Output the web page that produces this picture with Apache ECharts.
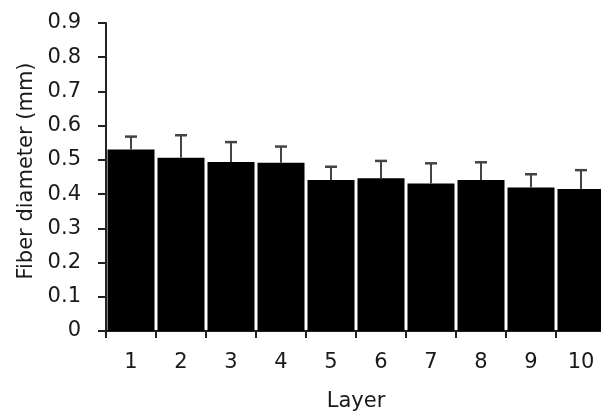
<!DOCTYPE html>
<html><head><meta charset="utf-8">
<script src="https://cdn.jsdelivr.net/npm/echarts@6/dist/echarts.min.js"></script>
<style>html,body{margin:0;padding:0;background:#fff}#c{width:601px;height:412px}</style>
</head><body><div id="c"></div>
<script>
const categories = ['1','2','3','4','5','6','7','8','9','10'];
const means = [0.530, 0.506, 0.494, 0.492, 0.441, 0.446, 0.431, 0.441, 0.419, 0.415];
const errors = [0.038, 0.066, 0.058, 0.047, 0.039, 0.051, 0.059, 0.052, 0.039, 0.055];
const yTicks = [0, 0.1, 0.2, 0.3, 0.4, 0.5, 0.6, 0.7, 0.8, 0.9];

const chart = echarts.init(document.getElementById('c'), null, {renderer: 'canvas'});
const font = '"DejaVu Sans", sans-serif';
const txt = '#1a1a1a';
chart.setOption({
  animation: false,
  grid: {left: 106, right: -5, top: 23, bottom: 81, containLabel: false, outerBoundsMode: 'none'},
  xAxis: {
    type: 'category', data: categories,
    axisLine: {lineStyle: {color: '#222', width: 2}},
    axisTick: {show: true, length: 7, lineStyle: {color: '#222', width: 2}},
    axisLabel: {color: txt, fontSize: 21, fontFamily: font, margin: 21},
    name: 'Layer', nameLocation: 'middle', nameGap: 60,
    nameTextStyle: {color: txt, fontSize: 21, fontFamily: font}
  },
  yAxis: {
    type: 'value', min: 0, max: yTicks[yTicks.length - 1], interval: 0.1,
    splitLine: {show: false},
    axisLine: {show: true, lineStyle: {color: '#222', width: 2}},
    axisTick: {show: true, length: 8, lineStyle: {color: '#222', width: 2}},
    axisLabel: {color: txt, fontSize: 21, fontFamily: font, margin: 25,
      formatter: v => (Math.round(v * 10) / 10).toString()},
    name: 'Fiber diameter (mm)', nameLocation: 'middle', nameGap: 67,
    nameTextStyle: {color: txt, fontSize: 21, fontFamily: font, padding: [0, 0, 0, 12]}
  },
  series: [
    {type: 'bar', data: means, barCategoryGap: '6%', itemStyle: {color: '#000'}, z: 2},
    {type: 'custom', z: 5,
      data: means.map((m, i) => [i, m, m + errors[i]]),
      renderItem: function (params, api) {
        const x = api.value(0);
        const p0 = api.coord([x, api.value(1)]);
        const p1 = api.coord([x, api.value(2)]);
        const hw = 6;
        return {type: 'group', children: [
          {type: 'line', shape: {x1: p0[0], y1: p0[1], x2: p1[0], y2: p1[1]}, style: {stroke: '#444', lineWidth: 2}},
          {type: 'line', shape: {x1: p1[0] - hw, y1: p1[1], x2: p1[0] + hw, y2: p1[1]}, style: {stroke: '#444', lineWidth: 2.5}}
        ]};
      }
    }
  ]
});
</script></body></html>
